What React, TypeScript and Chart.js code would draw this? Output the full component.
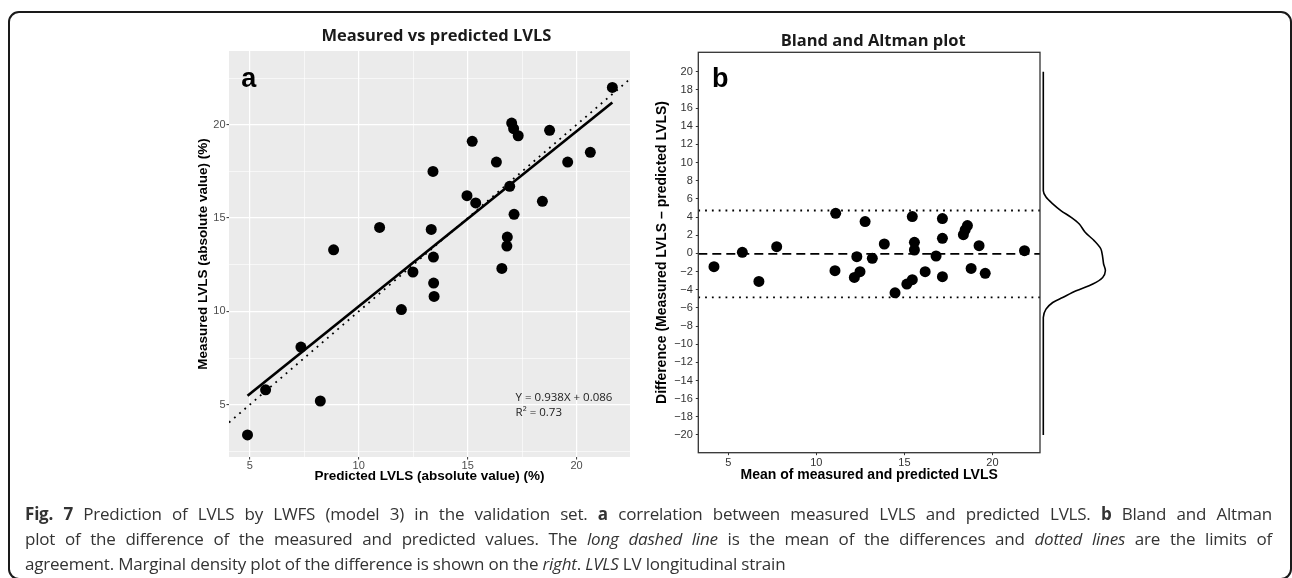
import React, { useEffect, useRef } from "react";
import { Chart, registerables } from "chart.js";

Chart.register(...registerables);

// ---------- Panel a: measured vs predicted ----------
const predictedLVLS = [21.64, 17.02, 17.11, 17.32, 18.76, 15.21, 16.32, 19.59, 20.63, 13.41, 14.97, 15.37, 16.93, 18.43, 17.13, 10.96, 13.33, 16.82, 16.8, 8.85, 13.43, 16.57, 12.49, 13.44, 13.46, 11.96, 7.35, 5.73, 8.24, 4.9];
const measuredLVLS = [22.0, 20.09, 19.79, 19.41, 19.7, 19.11, 18.0, 18.0, 18.52, 17.5, 16.2, 15.81, 16.7, 15.9, 15.2, 14.5, 14.39, 13.98, 13.5, 13.3, 12.91, 12.3, 12.11, 11.52, 10.8, 10.1, 8.09, 5.8, 5.2, 3.38];
const fitLineX = [4.9, 21.64];
const fitLineY = [5.48, 21.19];
const identityLineX = [4.05, 22.45];
const leftXRange = [4.05, 22.45];
const leftYRange = [2.2, 23.95];
const leftXTicks = [5, 7.5, 10, 12.5, 15, 17.5, 20];
const leftYTicks = [2.5, 5, 7.5, 10, 12.5, 15, 17.5, 20, 22.5];
const leftTitle = "Measured vs predicted LVLS";
const leftXTitle = "Predicted LVLS (absolute value) (%)";
const leftYTitle = "Measured LVLS (absolute value) (%)";
const equationLines = ["Y = 0.938X + 0.086", "R\u00B2 = 0.73"];
const equationAnchor = [17.2, 5.36, 4.56]; // x, y of line 1, y of line 2 (data units)

// ---------- Panel b: Bland-Altman ----------
const meanLVLS = [11.1, 12.77, 15.45, 17.16, 18.58, 18.45, 18.35, 17.16, 15.57, 15.57, 13.86, 19.24, 7.75, 5.8, 21.82, 12.3, 13.18, 16.8, 4.19, 6.74, 11.06, 12.16, 12.48, 14.47, 15.14, 15.45, 16.18, 17.16, 18.79, 19.59];
const diffLVLS = [4.41, 3.5, 4.05, 3.83, 3.06, 2.58, 2.06, 1.66, 1.22, 0.37, 1.03, 0.85, 0.74, 0.11, 0.3, -0.36, -0.55, -0.29, -1.47, -3.09, -1.91, -2.65, -2.02, -4.34, -3.38, -2.9, -2.02, -2.57, -1.66, -2.2];
const meanDiff = -0.06;
const upperLoA = 4.72;
const lowerLoA = -4.84;
const baXRange = [3.3, 22.7];
const baYRange = [-21.95, 22.14];
const baXTicks = [5, 10, 15, 20];
const baYTicks = [-20, -18, -16, -14, -12, -10, -8, -6, -4, -2, 0, 2, 4, 6, 8, 10, 12, 14, 16, 18, 20];
const baTitle = "Bland and Altman plot";
const baXTitle = "Mean of measured and predicted LVLS";
const baYTitle = "Difference (Measured LVLS \u2013 predicted LVLS)";

// ---------- Marginal density of the difference ----------
const densityY = [20, 6.9, 6.2, 5.45, 4.71, 3.97, 3.24, 2.32, 1.4, 0.48, -0.44, -1.17, -1.91, -2.65, -3.38, -4.12, -4.86, -5.41, -6.14, -7.06, -20];
const densityValues = [0, 0, 0.006, 0.021, 0.039, 0.062, 0.08, 0.093, 0.113, 0.128, 0.132, 0.134, 0.138, 0.132, 0.11, 0.073, 0.043, 0.021, 0.006, 0, 0];

const SANS = "'Liberation Sans', Arial, Helvetica, sans-serif";
const OPEN = "'Open Sans', 'Noto Sans', sans-serif";

const isMajor5 = (v: number) => Math.abs(v % 5) < 1e-9;
const fmtMinus = (v: number) => (v < 0 ? "\u2212" + Math.abs(v) : String(v));

function ChartCanvas({ config, left, top, width, height }: any) {
  const ref = useRef<HTMLCanvasElement | null>(null);
  useEffect(() => {
    if (!ref.current) return;
    const chart = new Chart(ref.current, config);
    return () => chart.destroy();
  }, []);
  return (
    <canvas
      ref={ref}
      width={width}
      height={height}
      style={{ position: "absolute", left, top, width, height }}
    />
  );
}

const leftDecor = {
  id: "leftDecor",
  beforeDraw(chart: any) {
    const { ctx, chartArea: a } = chart;
    ctx.save();
    ctx.fillStyle = "#EBEBEB";
    ctx.fillRect(a.left, a.top, a.right - a.left, a.bottom - a.top);
    ctx.restore();
  },
  afterDraw(chart: any) {
    const { ctx, chartArea: a, scales } = chart;
    ctx.save();
    ctx.fillStyle = "#1a1a1a";
    ctx.font = `bold 16.5px ${OPEN}`;
    ctx.textAlign = "center";
    ctx.textBaseline = "middle";
    ctx.fillText(leftTitle, (a.left + a.right) / 2 + 7, a.top - 14.3);
    ctx.fillStyle = "#000";
    ctx.font = `bold 27px ${SANS}`;
    ctx.textAlign = "left";
    ctx.textBaseline = "alphabetic";
    ctx.fillText("a", a.left + 12.2, a.top + 35.7);
    ctx.fillStyle = "#222";
    ctx.font = `11.5px ${OPEN}`;
    ctx.textBaseline = "middle";
    const ex = scales.x.getPixelForValue(equationAnchor[0]);
    ctx.fillText(equationLines[0], ex, scales.y.getPixelForValue(equationAnchor[1]));
    ctx.fillText(equationLines[1], ex, scales.y.getPixelForValue(equationAnchor[2]));
    ctx.restore();
  },
};

const rightDecor = {
  id: "rightDecor",
  afterDraw(chart: any) {
    const { ctx, chartArea: a } = chart;
    ctx.save();
    ctx.strokeStyle = "#333";
    ctx.lineWidth = 1.3;
    ctx.strokeRect(a.left, a.top, a.right - a.left, a.bottom - a.top);
    ctx.fillStyle = "#1a1a1a";
    ctx.font = `bold 16.5px ${OPEN}`;
    ctx.textAlign = "center";
    ctx.textBaseline = "middle";
    ctx.fillText(baTitle, (a.left + a.right) / 2 + 4, a.top - 10.6);
    ctx.fillStyle = "#000";
    ctx.font = `bold 27px ${SANS}`;
    ctx.textAlign = "left";
    ctx.textBaseline = "alphabetic";
    ctx.fillText("b", a.left + 13.8, a.top + 34.4);
    ctx.restore();
  },
};

function leftConfig(): any {
  const tickFont = { family: SANS, size: 11 };
  const gridOpts = {
    color: "#ffffff",
    lineWidth: (c: any) => (c.tick && isMajor5(c.tick.value) ? 1.2 : 0.6),
    tickLength: 2.5,
    tickWidth: 1,
    tickColor: (c: any) => (c.tick && isMajor5(c.tick.value) ? "#333333" : "rgba(0,0,0,0)"),
  };
  return {
    type: "scatter",
    data: {
      datasets: [
        {
          data: predictedLVLS.map((x, i) => ({ x, y: measuredLVLS[i] })),
          backgroundColor: "#000",
          borderWidth: 0,
          pointRadius: 5.5,
        },
        {
          data: fitLineX.map((x, i) => ({ x, y: fitLineY[i] })),
          showLine: true,
          borderColor: "#000",
          borderWidth: 2.7,
          pointRadius: 0,
        },
        {
          data: identityLineX.map((x) => ({ x, y: x })),
          showLine: true,
          borderColor: "#000",
          borderWidth: 1.8,
          borderDash: [1.8, 5],
          pointRadius: 0,
        },
      ],
    },
    options: {
      responsive: false,
      animation: false,
      devicePixelRatio: 1,
      layout: { padding: { top: 37, right: 10, left: 0, bottom: 0 } },
      plugins: { legend: { display: false }, tooltip: { enabled: false } },
      scales: {
        x: {
          type: "linear",
          min: leftXRange[0],
          max: leftXRange[1],
          afterBuildTicks: (s: any) => {
            s.ticks = leftXTicks.map((v) => ({ value: v }));
          },
          afterFit: (s: any) => {
            s.height = 43;
          },
          ticks: {
            autoSkip: false,
            maxRotation: 0,
            padding: 0,
            color: "#4D4D4D",
            font: tickFont,
            callback: (v: any) => (isMajor5(Number(v)) ? String(v) : ""),
          },
          grid: gridOpts,
          border: { display: false },
          title: {
            display: true,
            text: leftXTitle,
            color: "#000",
            font: { family: SANS, size: 13.5, weight: "bold" },
            padding: { top: 0, bottom: 15.9 },
          },
        },
        y: {
          type: "linear",
          min: leftYRange[0],
          max: leftYRange[1],
          afterBuildTicks: (s: any) => {
            s.ticks = leftYTicks.map((v) => ({ value: v }));
          },
          afterFit: (s: any) => {
            s.width = 49;
          },
          ticks: {
            autoSkip: false,
            padding: 1,
            color: "#4D4D4D",
            font: tickFont,
            callback: (v: any) => (isMajor5(Number(v)) ? String(v) : ""),
          },
          grid: gridOpts,
          border: { display: false },
          title: {
            display: true,
            text: leftYTitle,
            color: "#000",
            font: { family: SANS, size: 13.5, weight: "bold" },
            padding: { top: 15.5, bottom: 0 },
          },
        },
      },
    },
    plugins: [leftDecor],
  };
}

function rightConfig(): any {
  const tickFont = { family: SANS, size: 11 };
  const gridOpts = {
    drawOnChartArea: false,
    tickLength: 2.5,
    tickWidth: 1,
    tickColor: "#333333",
  };
  const hline = (y: number, dash: number[], width: number) => ({
    data: baXRange.map((x) => ({ x, y })),
    showLine: true,
    borderColor: "#000",
    borderWidth: width,
    borderDash: dash,
    pointRadius: 0,
  });
  return {
    type: "scatter",
    data: {
      datasets: [
        {
          data: meanLVLS.map((x, i) => ({ x, y: diffLVLS[i] })),
          backgroundColor: "#000",
          borderWidth: 0,
          pointRadius: 5.5,
        },
        hline(meanDiff, [9, 5], 1.8),
        hline(upperLoA, [1.8, 5], 1.8),
        hline(lowerLoA, [1.8, 5], 1.8),
      ],
    },
    options: {
      responsive: false,
      animation: false,
      devicePixelRatio: 1,
      layout: { padding: { top: 38.3, right: 10, left: 0, bottom: 0 } },
      plugins: { legend: { display: false }, tooltip: { enabled: false } },
      scales: {
        x: {
          type: "linear",
          min: baXRange[0],
          max: baXRange[1],
          afterBuildTicks: (s: any) => {
            s.ticks = baXTicks.map((v) => ({ value: v }));
          },
          afterFit: (s: any) => {
            s.height = 47.3;
          },
          ticks: {
            autoSkip: false,
            maxRotation: 0,
            padding: 1,
            color: "#333",
            font: tickFont,
            callback: (v: any) => fmtMinus(Number(v)),
          },
          grid: gridOpts,
          border: { display: false },
          title: {
            display: true,
            text: baXTitle,
            color: "#000",
            font: { family: SANS, size: 14, weight: "bold" },
            padding: { top: 0, bottom: 16.6 },
          },
        },
        y: {
          type: "linear",
          min: baYRange[0],
          max: baYRange[1],
          afterBuildTicks: (s: any) => {
            s.ticks = baYTicks.map((v) => ({ value: v }));
          },
          afterFit: (s: any) => {
            s.width = 58.3;
          },
          ticks: {
            autoSkip: false,
            padding: 3,
            color: "#333",
            font: tickFont,
            callback: (v: any) => fmtMinus(Number(v)),
          },
          grid: gridOpts,
          border: { display: false },
          title: {
            display: true,
            text: baYTitle,
            color: "#000",
            font: { family: SANS, size: 14, weight: "bold" },
            padding: { top: 13.6, bottom: 0 },
          },
        },
      },
    },
    plugins: [rightDecor],
  };
}

function densityConfig(): any {
  return {
    type: "scatter",
    data: {
      datasets: [
        {
          data: densityY.map((y, i) => ({ x: densityValues[i], y })),
          showLine: true,
          borderColor: "#000",
          borderWidth: 1.6,
          pointRadius: 0,
          tension: 0.3,
          clip: false,
        },
      ],
    },
    options: {
      responsive: false,
      animation: false,
      devicePixelRatio: 1,
      layout: { padding: { top: 52.3, bottom: 125.3, left: 7.3, right: 5.2 } },
      plugins: { legend: { display: false }, tooltip: { enabled: false } },
      scales: {
        x: { type: "linear", min: 0, max: 0.15, display: false },
        y: { type: "linear", min: baYRange[0], max: baYRange[1], display: false },
      },
    },
  };
}

export default function App() {
  return (
    <div
      style={{
        position: "absolute",
        left: 0,
        top: 0,
        width: 1292,
        height: 578,
        overflow: "hidden",
        background: "#fff",
      }}
    >
      <div
        style={{
          position: "absolute",
          left: 8,
          top: 11,
          width: 1284,
          height: 569,
          boxSizing: "border-box",
          border: "2px solid #1a1a1a",
          borderRadius: 11,
        }}
      />
      <ChartCanvas config={leftConfig()} left={180} top={14} width={460} height={486} />
      <ChartCanvas config={rightConfig()} left={640} top={14} width={410} height={486} />
      <ChartCanvas config={densityConfig()} left={1036} top={0} width={80} height={578} />
      <div
        style={{
          position: "absolute",
          left: 25,
          top: 500.5,
          width: 1247,
          fontFamily: OPEN,
          fontSize: 17,
          letterSpacing: "-0.2px",
          lineHeight: "25px",
          color: "#333",
        }}
      >
        <div style={{ textAlign: "justify", textAlignLast: "justify" }}>
          <b>Fig. 7</b> Prediction of LVLS by LWFS (model 3) in the validation set. <b>a</b> correlation between measured LVLS and predicted LVLS. <b>b</b> Bland and Altman
        </div>
        <div style={{ textAlign: "justify", textAlignLast: "justify" }}>
          plot of the difference of the measured and predicted values. The <i>long dashed line</i> is the mean of the differences and <i>dotted lines</i> are the limits of
        </div>
        <div style={{ textAlign: "left" }}>
          agreement. Marginal density plot of the difference is shown on the <i>right</i>. <i>LVLS</i> LV longitudinal strain
        </div>
      </div>
    </div>
  );
}
